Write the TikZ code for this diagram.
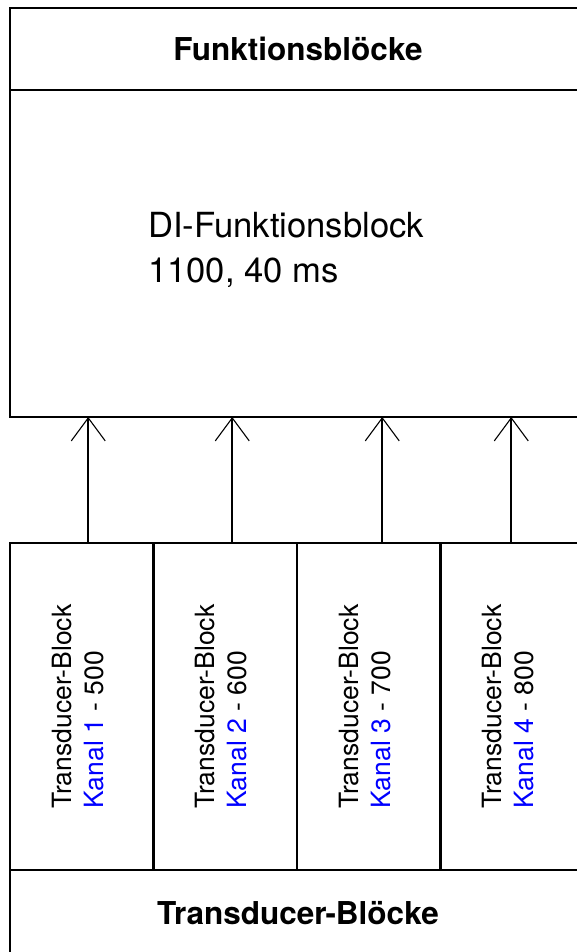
\documentclass[tikz,border=0pt]{standalone}
\usepackage{fontspec}
\setmainfont{TeX Gyre Heros}
\usetikzlibrary{positioning, arrows.meta}
\definecolor{kanalblue}{RGB}{0,0,255}

\begin{document}
\begin{tikzpicture}[x=1pt, y=-1pt,
    block/.style={rectangle,
      draw,
      line width=2.4pt,
      inner sep=0pt,
      outer sep=0pt},
    title/.style={font=\fontsize{31.5}{37}\selectfont\bfseries},
    channel/.style={block,
      minimum width=143.5pt,
      minimum height=327pt},
    chtext/.style={rotate=90,
      align=left,
      yshift=4pt,
      font=\fontsize{26.5}{32}\selectfont},
    flow/.style={line width=1.8pt,
      -{Straight Barb[length=23pt, width=34pt, line width=1.1pt]}}]

  \useasboundingbox (0,0) rectangle (577,952);

  % FUNKTIONSBLOECKE

  \node [block,
    minimum width=576pt,
    minimum height=82pt,
    anchor=north west] (fbtitle) at (10,8) {};
  \node [title] at (fbtitle.center) {Funktionsblöcke};

  \node [block,
    minimum width=576pt,
    minimum height=327pt,
    below=0pt of fbtitle] (fb) {};

  \node [anchor=north west,
    inner sep=0pt,
    align=left,
    font=\fontsize{34.6}{45}\selectfont] (ditext) at (148,212)
    {DI-Funktionsblock\\1100, 40 ms};

  % TRANSDUCER

  \node [channel,
    below=126pt of fb.south west,
    anchor=north west] (col1) {};
  \node [channel, right=0pt of col1] (col2) {};
  \node [channel, right=0pt of col2] (col3) {};
  \node [channel, right=0pt of col3] (col4) {};

  \node [chtext] at (col1.center)
    {Transducer-Block\\\textcolor{kanalblue}{Kanal 1} - 500};
  \node [chtext] at (col2.center)
    {Transducer-Block\\\textcolor{kanalblue}{Kanal 2} - 600};
  \node [chtext] at (col3.center)
    {Transducer-Block\\\textcolor{kanalblue}{Kanal 3} - 700};
  \node [chtext] at (col4.center)
    {Transducer-Block\\\textcolor{kanalblue}{Kanal 4} - 800};

  \node [block,
    minimum width=576pt,
    minimum height=86pt,
    below=0pt of col1.south west,
    anchor=north west] (tbtitle) {};
  \node [title] at (tbtitle.center) {Transducer-Blöcke};

  % ARROWS

  \coordinate (a1) at ([xshift=6.5pt]col1.north);
  \coordinate (a2) at ([xshift=7pt]col2.north);
  \coordinate (a3) at ([xshift=13.5pt]col3.north);
  \coordinate (a4) at ([xshift=-1pt]col4.north);
  \foreach \a in {a1, a2, a3, a4}
    \draw[flow] (\a) -- (\a |- fb.south);

\end{tikzpicture}
\end{document}
